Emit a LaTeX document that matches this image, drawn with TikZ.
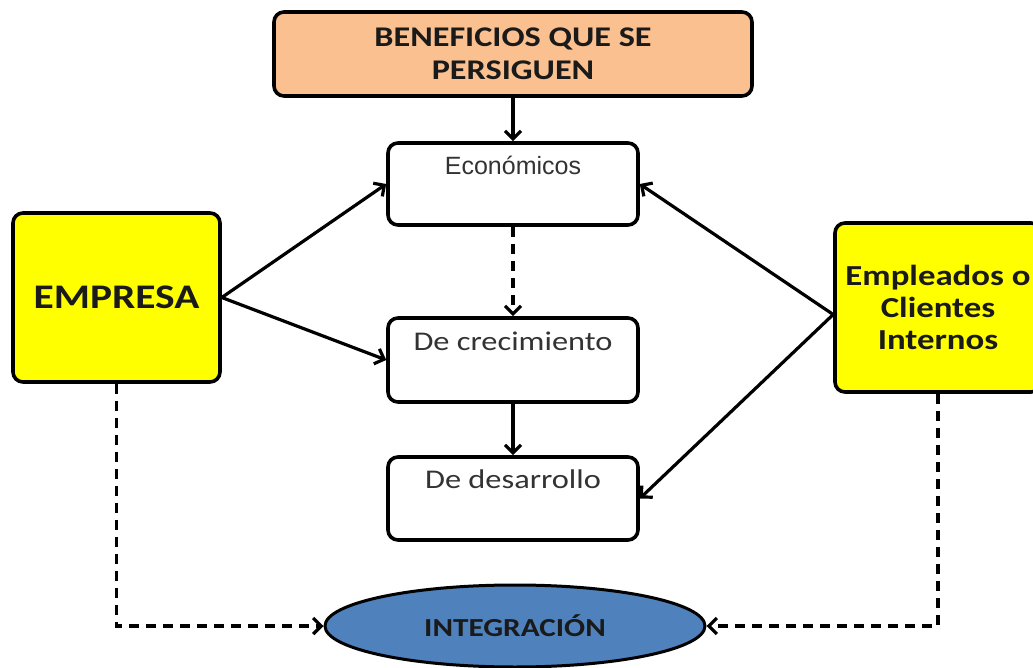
\documentclass[tikz,border=0pt]{standalone}
\usepackage{fontspec}
\setmainfont{Carlito}
\newfontfamily\arialfont{Liberation Sans}
\newfontfamily\wideb[FakeStretch=1.2]{Carlito}
\usetikzlibrary{arrows.meta,shapes.geometric}
\definecolor{orangebox}{HTML}{FAC090}
\definecolor{yellowbox}{HTML}{FFFF00}
\definecolor{bluebox}{HTML}{4F81BD}
\definecolor{txtdark}{HTML}{1A1A1A}
\tikzset{
  roundbox/.style={draw=black, line width=3.6pt, rounded corners=10pt, inner sep=0pt, align=center},
  whitebox/.style={roundbox, fill=white, minimum width=250pt, text=black!80},
  yellowbx/.style={roundbox, fill=yellowbox, text=txtdark},
  arr/.style={line width=3.2pt, -{Straight Barb[length=8pt,width=16pt,line width=3.2pt]}},
  dasharr/.style={arr, dash pattern=on 10pt off 7pt},
}
\begin{document}
\begin{tikzpicture}[x=1pt,y=-1pt]
\useasboundingbox (0,0) rectangle (1033,668);

\node[roundbox, fill=orangebox, minimum width=478pt, minimum height=84pt, text=txtdark,
      font=\wideb\bfseries\fontsize{28.5}{33}\selectfont] (ben) at (513,54)
  {BENEFICIOS QUE SE\\PERSIGUEN};

\node[whitebox, minimum height=82pt, text height=32pt, text depth=50pt,
      font=\arialfont\fontsize{25}{28}\selectfont] (eco) at (513,184) {Económicos};
\node[whitebox, minimum height=84pt, text height=32pt, text depth=52pt,
      font=\wideb\fontsize{27}{30}\selectfont] (cre) at (513,360) {De crecimiento};
\node[whitebox, minimum height=83pt, text height=31pt, text depth=52pt,
      font=\wideb\fontsize{27}{30}\selectfont] (des) at (513,498.5) {De desarrollo};

\node[yellowbx, minimum width=207pt, minimum height=169pt,
      font=\wideb\bfseries\fontsize{34.5}{38}\selectfont] (emp) at (116.5,297.5) {EMPRESA};
\node[yellowbx, minimum width=206pt, minimum height=169pt,
      font=\wideb\bfseries\fontsize{29}{32}\selectfont] (cli) at (938,307.5)
  {Empleados o\\Clientes\\Internos};

\node[ellipse, draw=black, line width=3pt, fill=bluebox, minimum width=380pt, minimum height=82pt,
      inner sep=0pt, text=txtdark, font=\wideb\bfseries\fontsize{26}{28}\selectfont] (int) at (515,626) {INTEGRACIÓN};

\draw[arr] (ben.south) -- (eco.north);
\draw[dasharr] (eco.south) -- (cre.north);
\draw[arr] (cre.south) -- (des.north);
\draw[arr] (emp.east) -- (eco.west);
\draw[arr] (emp.east) -- (cre.west);
\draw[arr] ([yshift=-7pt]cli.west) -- (eco.east);
\draw[arr] ([yshift=-7pt]cli.west) -- (des.east);
\draw[dasharr] (emp.south) |- (int.west);
\draw[dasharr] (cli.south) |- (int.east);
\end{tikzpicture}
\end{document}
